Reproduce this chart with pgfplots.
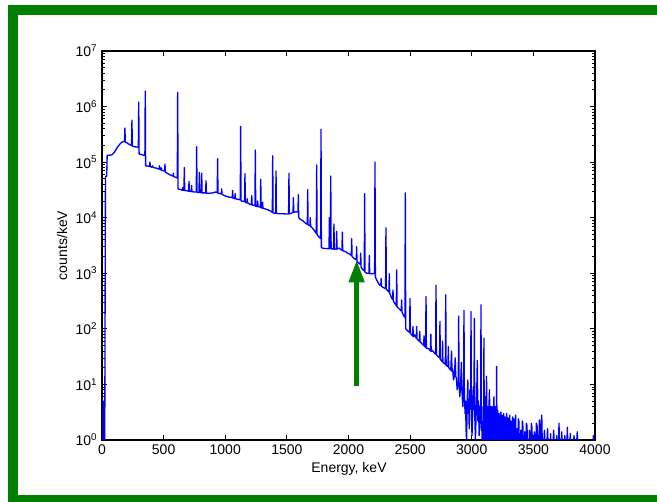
\documentclass[border=0pt]{standalone}
\usepackage{pgfplots}
\pgfplotsset{compat=1.18}
\usepackage{fontspec}
\setmainfont{Liberation Sans}
\usetikzlibrary{arrows.meta}
\definecolor{mgreen}{RGB}{0,128,0}
\definecolor{mblue}{RGB}{0,0,255}
\begin{document}
\begin{tikzpicture}
\fill[white] (0,0) rectangle (492.75pt,376.5pt);
\fill[mgreen] (6pt,365.25pt) rectangle (492.75pt,372.75pt);
\fill[mgreen] (6pt,0pt) rectangle (13.5pt,372.75pt);
\fill[mgreen] (6pt,0pt) rectangle (492.75pt,5.25pt);
\begin{axis}[
  at={(76.5pt,46.5pt)}, anchor=south west,
  scale only axis, width=369.75pt, height=291.75pt,
  xmin=0, xmax=4000, ymin=1, ymax=1e7, ymode=log,
  xtick={0,500,1000,1500,2000,2500,3000,3500,4000},
  xticklabels={0,500,1000,1500,2000,2500,3000,3500,4000},
  ytick={1,10,100,1000,10000,100000,1000000,10000000},
  yticklabels={10\textsuperscript{0},10\textsuperscript{1},10\textsuperscript{2},10\textsuperscript{3},10\textsuperscript{4},10\textsuperscript{5},10\textsuperscript{6},10\textsuperscript{7}},
  tick align=inside, xtick pos=both, ytick pos=both,
  major tick length=4pt, minor tick length=2pt,
  every tick/.style={black, line width=0.6pt},
  axis line style={black, line width=1pt},
  ticklabel style={font=\fontsize{10.5}{12}\selectfont},
  label style={font=\fontsize{10.5}{12}\selectfont},
  xlabel={Energy, keV}, ylabel={counts/keV},
  xlabel style={at={(axis description cs:0.501,-0.0746)}, anchor=center},
  ylabel style={at={(axis description cs:-0.0811,0.5)}, anchor=center},
  clip=true,
]
\addplot[mblue, line width=1pt, line join=round, mark=none] coordinates {
(5,0.3)(10,5)(16,4)(22,0.6)(28,5.5e4)(38,5.6e4)(42,1.32e5)(80,1.35e5)(100,1.5e5)(120,1.78e5)(140,2.05e5)(160,2.28e5)(175,2.34e5)(183,2.32e5)(186,4.1e5)(189,2.3e5)(200,2.25e5)(215,2.12e5)(230,2.05e5)(240,2.0e5)(243,5.7e5)(246,1.95e5)(260,1.9e5)(275,1.88e5)(290,1.86e5)(295,1.84e5)(298,1.2e6)(301,1.40e5)(320,1.37e5)(340,1.33e5)(348,1.32e5)(351,1.9e6)(354,8.6e4)(370,8.5e4)(386,8.4e4)(389,1.0e5)(392,8.3e4)(405,8.1e4)(410,8.6e4)(415,8.0e4)(440,7.8e4)(455,7.6e4)(463,7.5e4)(466,8.6e4)(469,7.4e4)(478,7.3e4)(481,7.9e4)(484,7.1e4)(500,7.0e4)(508,6.9e4)(511,9.2e4)(514,6.6e4)(530,6.3e4)(545,6.0e4)(560,5.8e4)(576,5.6e4)(579,6.3e4)(582,5.5e4)(600,5.3e4)(611,5.2e4)(614,1.8e6)(617,3.3e4)(640,3.2e4)(652,3.1e4)(656,3.5e4)(660,3.1e4)(665,3.15e4)(668,8.0e4)(671,3.1e4)(690,3.05e4)(703,3.0e4)(706,4.5e4)(709,3.0e4)(724,2.95e4)(727,3.8e4)(730,2.95e4)(750,2.9e4)(765,2.9e4)(768,1.9e5)(771,2.85e4)(787,2.85e4)(790,6.5e4)(793,2.85e4)(806,2.8e4)(809,6.3e4)(812,2.8e4)(830,2.8e4)(841,2.8e4)(844,4.6e4)(847,2.75e4)(870,2.75e4)(900,2.8e4)(920,2.9e4)(935,2.85e4)(938,1.15e5)(941,2.75e4)(968,2.7e4)(971,3.3e4)(974,2.65e4)(1000,2.45e4)(1030,2.35e4)(1057,2.3e4)(1060,3.1e4)(1063,2.25e4)(1077,2.2e4)(1080,2.7e4)(1083,2.2e4)(1100,2.15e4)(1122,2.1e4)(1125,4.4e5)(1128,2.0e4)(1157,1.95e4)(1160,6.2e4)(1163,1.9e4)(1175,1.85e4)(1178,2.2e4)(1181,1.85e4)(1190,1.8e4)(1212,1.7e4)(1215,2.5e4)(1218,1.7e4)(1241,1.65e4)(1244,1.65e5)(1247,1.6e4)(1260,1.6e4)(1263,2.0e4)(1266,1.58e4)(1285,1.55e4)(1288,4.9e4)(1291,1.5e4)(1300,1.5e4)(1303,1.9e4)(1306,1.48e4)(1320,1.45e4)(1340,1.4e4)(1360,1.35e4)(1382,1.25e4)(1385,1.3e5)(1388,1.22e4)(1409,1.2e4)(1412,6.9e4)(1415,1.2e4)(1430,1.18e4)(1460,1.18e4)(1490,1.17e4)(1514,1.17e4)(1517,6.3e4)(1520,1.17e4)(1535,1.2e4)(1550,1.25e4)(1553,2.3e4)(1556,1.25e4)(1575,1.28e4)(1590,1.26e4)(1593,2.6e4)(1596,1.0e4)(1610,9.3e3)(1630,8.8e3)(1650,8.0e3)(1666,7.6e3)(1669,3.2e4)(1672,7.4e3)(1687,7.2e3)(1690,1.0e4)(1693,7.0e3)(1710,6.4e3)(1725,5.8e3)(1739,5.2e3)(1742,8.9e4)(1745,5.0e3)(1760,4.5e3)(1774,4.2e3)(1777,3.9e5)(1780,2.9e3)(1800,2.8e3)(1820,2.8e3)(1842,2.75e3)(1845,1.0e4)(1848,2.8e3)(1853,2.8e3)(1856,5.6e4)(1859,2.75e3)(1879,2.75e3)(1882,7.7e3)(1885,2.7e3)(1901,2.75e3)(1904,5.7e3)(1907,2.7e3)(1925,2.85e3)(1935,2.7e3)(1947,2.6e3)(1950,5.5e3)(1953,2.55e3)(1975,2.45e3)(1995,2.3e3)(2010,2.2e3)(2023,2.1e3)(2026,4.2e3)(2029,2.0e3)(2045,1.85e3)(2063,1.75e3)(2066,3.0e3)(2069,1.65e3)(2085,1.5e3)(2096,1.45e3)(2099,2.3e3)(2102,1.3e3)(2110,1.2e3)(2128,1.1e3)(2131,2.7e4)(2134,1.05e3)(2150,1.0e3)(2166,1.0e3)(2169,2.1e3)(2172,9.8e2)(2195,9.8e2)(2212,1.0e3)(2215,1.0e5)(2218,8.5e2)(2230,7.5e2)(2250,6.2e2)(2262,6.0e2)(2265,8.0e2)(2268,5.8e2)(2285,5.5e2)(2301,5.3e2)(2304,6.6e3)(2307,5.2e2)(2320,4.8e2)(2328,4.6e2)(2331,9.8e2)(2334,4.4e2)(2350,3.6e2)(2358,3.4e2)(2361,5.0e2)(2364,3.2e2)(2370,3.0e2)(2388,2.6e2)(2391,1.15e3)(2394,2.5e2)(2410,2.3e2)(2428,2.1e2)(2431,3.3e2)(2434,2.0e2)(2450,1.7e2)(2458,1.6e2)(2461,2.8e4)(2464,1.0e2)(2480,9.2e1)(2496,8.6e1)(2499,3.5e2)(2502,8.3e1)(2520,7.5e1)(2523,1.1e2)(2526,7.2e1)(2535,7.8e1)(2550,6.8e1)(2553,1.1e2)(2556,6.6e1)(2575,6.0e1)(2578,9.0e1)(2581,5.8e1)(2590,5.6e1)(2610,5.0e1)(2613,7.5e1)(2616,4.9e1)(2626,4.6e1)(2629,3.8e2)(2632,4.5e1)(2650,4.4e1)(2665,4.0e1)(2668,8.0e1)(2671,3.9e1)(2680,4.1e1)(2695,3.7e1)(2707,3.5e1)(2710,6.1e2)(2713,3.4e1)(2725,3.2e1)(2739,3.0e1)(2742,1.35e2)(2745,2.8e1)(2760,2.6e1)(2763,6.0e1)(2766,2.5e1)(2775,2.4e1)(2786,2.3e1)(2789,4.1e2)(2792,2.2e1)(2807,2.1e1)(2810,4.8e1)(2813,2.0e1)(2830,1.8e1)(2836,4.0e1)(2840,1.7e1)(2845,1.9e1)(2852,1.2e1)(2860,1.5e1)(2866,3.0e1)(2870,1.4e1)(2875,1.3e1)(2882,8)(2891,1.2e1)(2894,1.7e2)(2897,1.1e1)(2903,6)(2910,1.0e1)(2916,2.5e1)(2920,8)(2928,4)(2934,7.5)(2937,2.15e2)(2940,7)(2946,3)(2950,5)(2954,1.5)(2958,1.0)(2964,5.5)(2968,12)(2972,3)(2975,4.5)(2980,1.6)(2985,8)(2991,4)(2994,2.05e2)(2997,3.8)(3002,1.2)(3008,3.2)(3012,9)(3018,3.5)(3021,1.55e2)(3024,3)(3030,1.0)(3035,2.7)(3040,6)(3045,27)(3050,2.2)(3055,5)(3060,1.2)(3066,4)(3072,2.0)(3075,2.7e2)(3078,1.5)(3082,4)(3085,0.3)(3090,1.8)(3096,0.8)(3099,68)(3102,0.5)(3108,2.5)(3111,6)(3114,0.3)(3120,14)(3126,0.3)(3129,4)(3132,3)(3138,0.3)(3141,5)(3144,8)(3150,0.3)(3153,3)(3156,4)(3162,0.3)(3165,4)(3168,2.5)(3174,0.3)(3177,3)(3180,6)(3186,0.4)(3189,4)(3192,3)(3198,0.3)(3202,21)(3206,0.3)(3209,3.5)(3212,3)(3218,0.3)(3221,3)(3224,2.5)(3230,0.3)(3233,2.5)(3236,3.2)(3242,0.3)(3245,2.8)(3248,2)(3254,0.3)(3257,2.5)(3260,3)(3266,0.3)(3269,2.6)(3272,2.2)(3278,0.3)(3281,2.4)(3284,3)(3290,0.3)(3293,2.5)(3296,2)(3302,0.3)(3305,2)(3308,2.8)(3314,0.3)(3317,2.2)(3320,1.8)(3326,0.3)(3329,2)(3332,2.6)(3338,0.3)(3341,2.4)(3344,2.2)(3350,0.3)(3353,2)(3356,2.8)(3362,0.3)(3368,1.6)(3374,0.3)(3378,2.4)(3382,2.2)(3390,0.3)(3398,1.5)(3406,0.3)(3410,2.2)(3414,2)(3422,0.3)(3430,1.4)(3438,0.3)(3443,2)(3448,1.8)(3458,0.3)(3468,1.5)(3478,0.3)(3483,2)(3488,1.7)(3498,0.3)(3508,1.4)(3518,0.3)(3524,2)(3530,1.8)(3540,0.3)(3549,2.3)(3556,0.3)(3562,1.8)(3568,2.8)(3576,0.3)(3590,1.5)(3600,0.3)(3615,1.6)(3625,0.3)(3640,1.3)(3650,0.3)(3665,1.5)(3675,0.3)(3690,1.2)(3700,0.3)(3708,2.0)(3716,0.3)(3730,1.4)(3740,0.3)(3755,1.2)(3765,0.3)(3776,1.7)(3784,0.3)(3800,1.3)(3810,0.3)(3830,1.2)(3840,0.3)(3856,1.4)(3864,0.3)(3984,0.3)(3987,1.2)(3990,0.3)
};
\draw[mgreen, line width=4pt, -{Triangle[width=11pt,length=17pt]}] (axis cs:2066,9.5) -- (axis cs:2066,1750);
\end{axis}
\end{tikzpicture}
\end{document}
